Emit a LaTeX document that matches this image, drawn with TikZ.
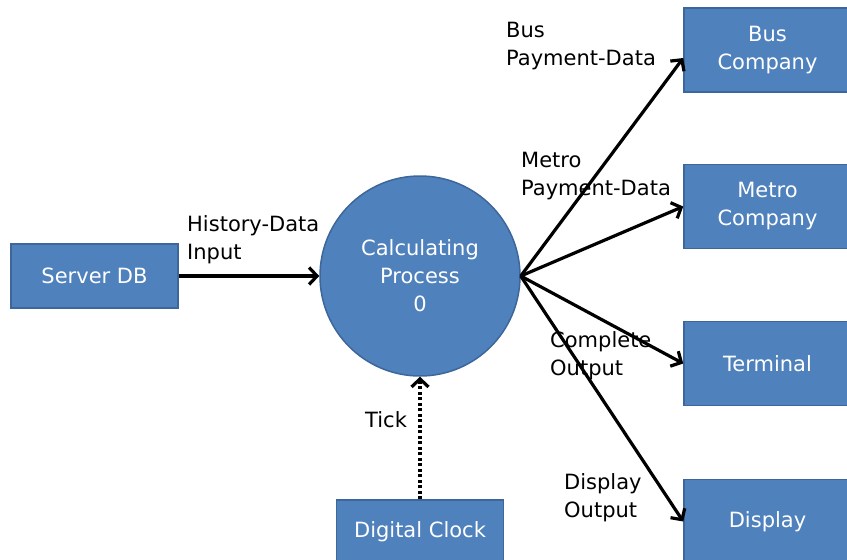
\documentclass[tikz,border=0pt]{standalone}
\usepackage{fontspec}
\setmainfont{DejaVu Sans}
\usetikzlibrary{positioning, arrows.meta}
\definecolor{boxblue}{HTML}{4F81BD}
\definecolor{boxline}{HTML}{3D679A}
\tikzset{
	>={Straight Barb[length=8pt,width=17pt]}, % open chevron arrow heads
	entity/.style={rectangle, draw=boxline, line width=1.5pt, fill=boxblue, text=white, align=center, minimum width=167pt, minimum height=84pt}, % blue boxes
	proc/.style={circle, draw=boxline, line width=1.5pt, fill=boxblue, text=white, align=center, minimum size=200pt, inner sep=0pt}, % the process bubble
	flow/.style={->, line width=3.2pt}, % data flows
	flowtext/.style={anchor=west, align=left, inner sep=0pt}, % text beside a flow
}
\begin{document}
\begin{tikzpicture}[x=1pt, y=-1pt, node distance=150pt, on grid, font=\fontsize{21pt}{28pt}\selectfont]
	\useasboundingbox (0,0) rectangle (847,560);
	\clip (0,0) rectangle (847,560);

	% Process and sources
	\node[proc] (calc) at (420,276) {Calculating\\Process\\0};
	\node[entity, minimum height=64pt, left=325.5pt of calc] (server) {Server DB};
	\node[entity, minimum height=64pt, below=256pt of calc] (clock) {Digital Clock};

	% Sinks
	\node[entity] (bus) at (767.5,50) {Bus\\Company};
	\node[entity, below=156.5pt of bus] (metro) {Metro\\Company};
	\node[entity, below=157pt of metro] (terminal) {Terminal};
	\node[entity, below=158pt of terminal] (display) {Display};

	% Flows
	\draw[flow] (server) -- (calc);
	\draw[flow, dash pattern=on 3pt off 2.5pt] (clock) -- (calc);
	\draw[flow] (calc.east) -- ([yshift=-8pt]bus.west);
	\draw[flow] (calc.east) -- (metro.west);
	\draw[flow] (calc.east) -- (terminal.west);
	\draw[flow] (calc.east) -- (display.west);

	% Flow texts
	\node[flowtext] (histtext) at (187,240) {History-Data\\Input};
	\node[flowtext] (bustext) at (506,46) {Bus\\Payment-Data};
	\node[flowtext] (metrotext) at (521,176) {Metro\\Payment-Data};
	\node[flowtext] (comptext) at (550,356) {Complete\\Output};
	\node[flowtext] (disptext) at (564,498) {Display\\Output};
	\node[flowtext] (ticktext) at (365,420) {Tick};
\end{tikzpicture}
\end{document}
